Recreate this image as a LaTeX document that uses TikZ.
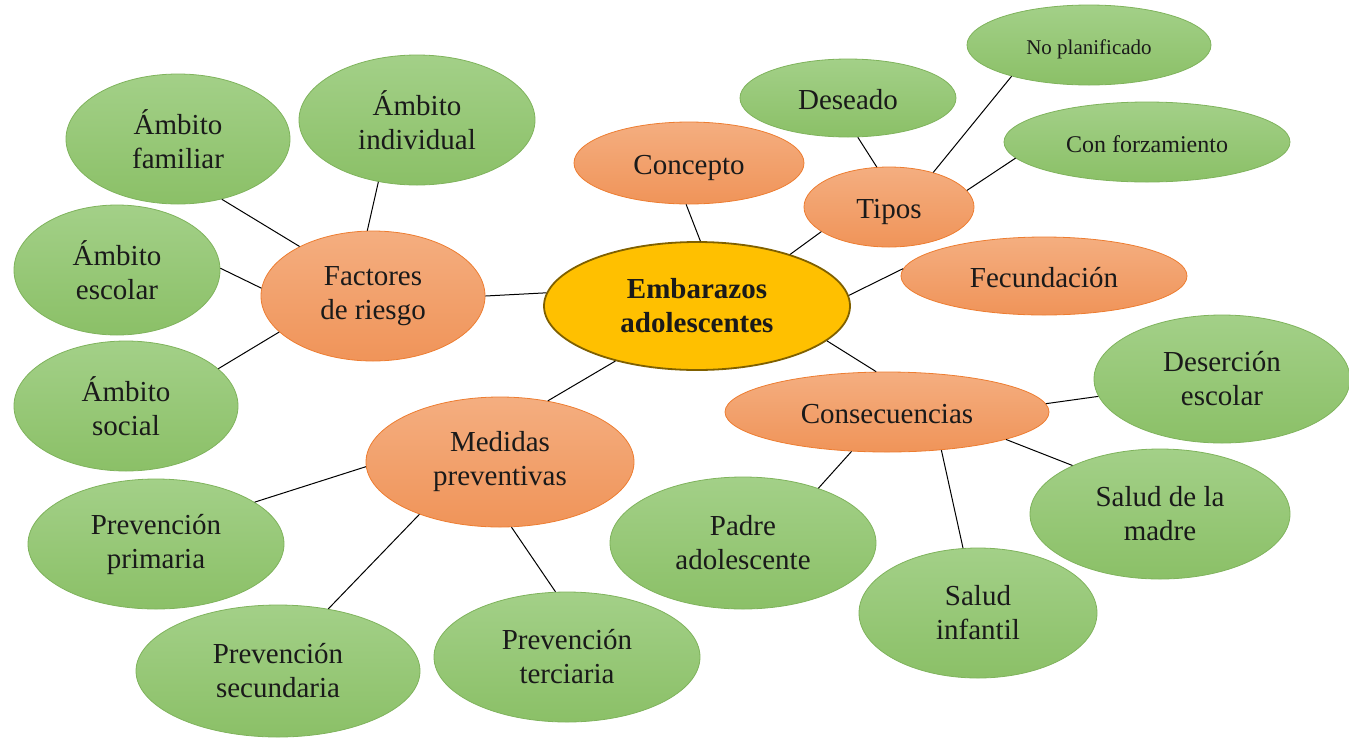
\documentclass[tikz,border=0pt]{standalone}
\usepackage{fontspec}
\setmainfont{Liberation Serif}
\usetikzlibrary{shapes.geometric}
\definecolor{gtop}{HTML}{A3D088}
\definecolor{gbot}{HTML}{8BC067}
\definecolor{gline}{HTML}{7FB35C}
\definecolor{otop}{HTML}{F4AE80}
\definecolor{obot}{HTML}{F09459}
\definecolor{oline}{HTML}{ED7D31}
\definecolor{ctr}{HTML}{FFC000}
\definecolor{cline}{HTML}{7F6000}
\definecolor{txt}{HTML}{1A1A1A}
\tikzset{
  base/.style={ellipse, inner sep=0pt, align=center, text=txt, font=\fontsize{29}{34}\selectfont},
  gnode/.style={base, top color=gtop, bottom color=gbot, draw=gline, line width=0.8pt},
  onode/.style={base, top color=otop, bottom color=obot, draw=oline, line width=0.8pt},
  cnode/.style={base, fill=ctr, draw=cline, line width=1.8pt, font=\fontsize{29}{34}\selectfont\bfseries},
  oneline/.style={text height=#1, text depth=0pt},
  oneline/.default=23pt,
  conn/.style={draw=black, line width=1pt},
}
\begin{document}
\begin{tikzpicture}[x=1pt,y=-1pt]
\useasboundingbox (0,0) rectangle (1349,737);
% central
\node[cnode, minimum width=306pt, minimum height=128pt] (c) at (697,306) {Embarazos\\adolescentes};
% orange
\node[onode, oneline, minimum width=230pt, minimum height=82pt] (con) at (689,163) {Concepto};
\node[onode, oneline, minimum width=170pt, minimum height=80pt] (tip) at (889,207) {Tipos};
\node[onode, oneline, minimum width=286pt, minimum height=78pt] (fec) at (1044,276) {Fecundación};
\node[onode, oneline, minimum width=324pt, minimum height=80pt] (cons) at (887,412) {Consecuencias};
\node[onode, minimum width=268pt, minimum height=130pt] (med) at (500,462) {Medidas\\preventivas};
\node[onode, minimum width=224pt, minimum height=130pt] (fr) at (373,296) {Factores\\de riesgo};
% green - tipos
\node[gnode, oneline, minimum width=216pt, minimum height=78pt] (des) at (848,98) {Deseado};
\node[gnode, oneline=18pt, minimum width=244pt, minimum height=80pt, font=\fontsize{21}{25}\selectfont] (nop) at (1089,45) {No planificado};
\node[gnode, oneline=20pt, minimum width=286pt, minimum height=80pt, font=\fontsize{24}{28}\selectfont] (cf) at (1147,142) {Con forzamiento};
% green - consecuencias
\node[gnode, minimum width=256pt, minimum height=128pt] (dese) at (1222,379) {Deserción\\escolar};
\node[gnode, minimum width=260pt, minimum height=130pt] (mad) at (1160,514) {Salud de la\\madre};
\node[gnode, minimum width=238pt, minimum height=130pt] (inf) at (978,613) {Salud\\infantil};
\node[gnode, minimum width=266pt, minimum height=132pt] (pad) at (743,543) {Padre\\adolescente};
% green - medidas
\node[gnode, minimum width=256pt, minimum height=130pt] (pri) at (156,544) {Prevención\\primaria};
\node[gnode, minimum width=284pt, minimum height=132pt] (sec) at (278,671) {Prevención\\secundaria};
\node[gnode, minimum width=266pt, minimum height=130pt] (ter) at (567,657) {Prevención\\terciaria};
% green - factores
\node[gnode, minimum width=224pt, minimum height=130pt] (fam) at (178,139) {Ámbito\\familiar};
\node[gnode, minimum width=236pt, minimum height=130pt] (ind) at (417,120) {Ámbito\\individual};
\node[gnode, minimum width=206pt, minimum height=130pt] (esc) at (117,270) {Ámbito\\escolar};
\node[gnode, minimum width=224pt, minimum height=130pt] (soc) at (126,406) {Ámbito\\social};
% connectors
\draw[conn] (c.175) -- (fr.0);
\draw[conn] (c.87) -- (con.266);
\draw[conn] (c.29) -- (tip.200);
\draw[conn] (c.4) -- (fec.177.5);
\draw[conn] (c.-15.6) -- (cons.105);
\draw[conn] (c.214) -- (med.52.7);
\draw[conn] (fr.146.7) -- (fam.-54);
\draw[conn] (fr.95) -- (ind.238);
\draw[conn] (fr.176) -- (esc.1);
\draw[conn] (fr.201) -- (soc.22.6);
\draw[conn] (tip.107) -- (des.284);
\draw[conn] (tip.38) -- (nop.202);
\draw[conn] (tip.12) -- (cf.187);
\draw[conn] (cons.3) -- (dese.188);
\draw[conn] (cons.-13) -- (mad.151);
\draw[conn] (cons.-35.5) -- (inf.103);
\draw[conn] (cons.228) -- (pad.36);
\draw[conn] (med.182.6) -- (pri.23);
\draw[conn] (med.213.5) -- (sec.51);
\draw[conn] (med.280) -- (ter.100);
\end{tikzpicture}
\end{document}
